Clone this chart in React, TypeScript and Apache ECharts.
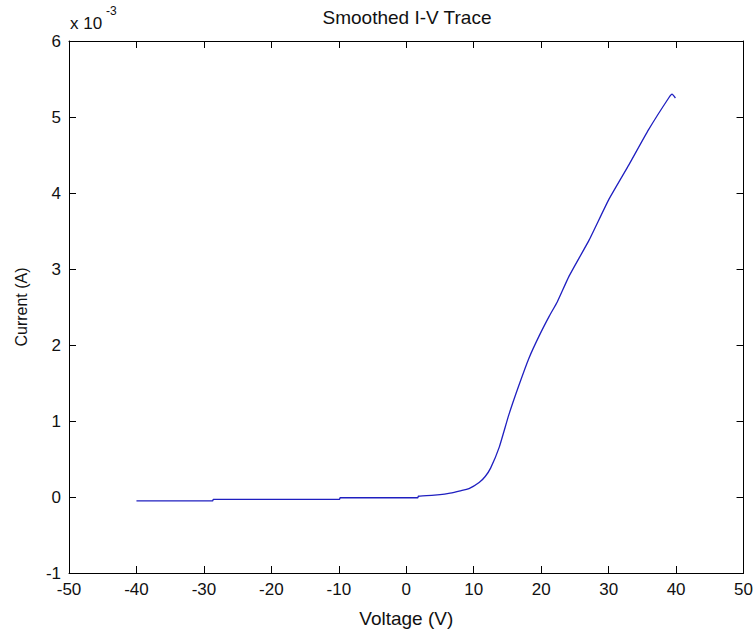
import React, { useEffect, useRef } from "react";
import * as echarts from "echarts";

const voltage = [-40, -28.7, -28.6, -9.9, -9.8, 1.7, 1.8, 5, 6.5, 8, 9.3, 10.8, 11.7, 12.5, 13.8, 15.2, 16.7, 18.2, 19.7, 21.2, 22.4, 24.1, 27.1, 30, 33, 35.9, 38.9, 39.4, 39.9];
const current = [-0.05, -0.05, -0.03, -0.03, -0.01, -0.01, 0.01, 0.03, 0.05, 0.08, 0.11, 0.19, 0.27, 0.38, 0.66, 1.08, 1.47, 1.83, 2.12, 2.38, 2.57, 2.9, 3.38, 3.91, 4.37, 4.83, 5.25, 5.3, 5.25];

const xTicks = { min: -50, max: 50, interval: 10 };
const yTicks = { min: -1, max: 6, interval: 1 };

const FONT = "Liberation Sans, Arial, sans-serif";

export default function App() {
  const ref = useRef<HTMLDivElement>(null);
  useEffect(() => {
    if (!ref.current) return;
    const chart = echarts.init(ref.current, null, { renderer: "svg" });
    const axisLine = { show: true, onZero: false, lineStyle: { color: "#000", width: 1 } };
    const tick = { show: true, inside: true, length: 7, lineStyle: { color: "#000" } };
    const label = { color: "#111", fontSize: 17, fontFamily: FONT };
    chart.setOption({
      animation: false,
      backgroundColor: "#fff",
      grid: { left: 69, right: 11, top: 41, bottom: 61, containLabel: false },
      xAxis: [
        {
          type: "value", position: "bottom", ...xTicks,
          axisLine, axisTick: tick, splitLine: { show: false },
          axisLabel: { ...label, margin: 8 },
          name: "Voltage (V)", nameLocation: "middle", nameGap: 36,
          nameTextStyle: { color: "#111", fontSize: 19, fontFamily: FONT },
        },
        {
          type: "value", position: "top", ...xTicks,
          axisLine, axisTick: tick, splitLine: { show: false },
          axisLabel: { show: false },
        },
      ],
      yAxis: [
        {
          type: "value", position: "left", ...yTicks,
          axisLine, axisTick: tick, splitLine: { show: false },
          axisLabel: { ...label, margin: 8 },
          name: "Current (A)", nameLocation: "middle", nameGap: 40,
          nameTextStyle: { color: "#111", fontSize: 16, fontFamily: FONT },
        },
        {
          type: "value", position: "right", ...yTicks,
          axisLine, axisTick: tick, splitLine: { show: false },
          axisLabel: { show: false },
        },
      ],
      graphic: [
        {
          type: "text", x: 407, y: 8,
          style: { text: "Smoothed I-V Trace", fill: "#111", fontSize: 19, fontFamily: FONT, textAlign: "center" },
        },
        {
          type: "text", x: 70, y: 15,
          style: { text: "x 10", fill: "#111", fontSize: 17, fontFamily: FONT },
        },
        {
          type: "text", x: 106, y: 5,
          style: { text: "-3", fill: "#111", fontSize: 12, fontFamily: FONT },
        },
      ],
      series: [
        {
          type: "line",
          xAxisIndex: 0,
          yAxisIndex: 0,
          data: voltage.map((v, i) => [v, current[i]]),
          showSymbol: false,
          smooth: 0.15,
          lineStyle: { color: "#1f1fc0", width: 1.3 },
        },
      ],
    });
    return () => chart.dispose();
  }, []);
  return <div ref={ref} style={{ position: "absolute", left: 0, top: 0, width: 756, height: 634 }} />;
}
